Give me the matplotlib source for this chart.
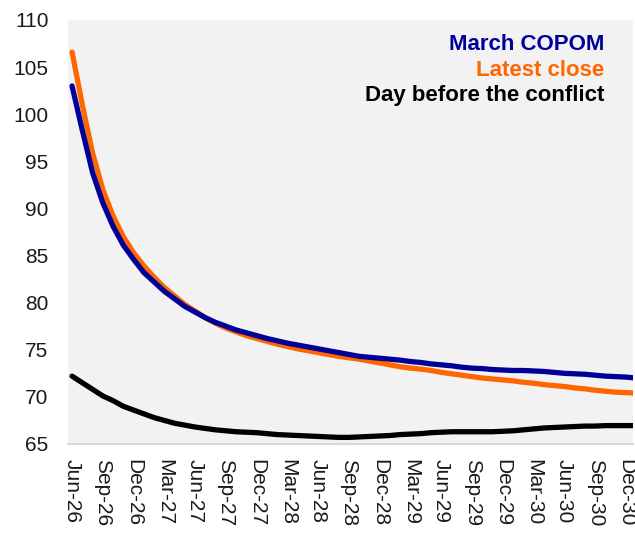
import matplotlib
matplotlib.use("Agg")
import matplotlib.pyplot as plt

plt.rcParams['font.family'] = ['Liberation Sans', 'DejaVu Sans']

# monthly points, Jun-26 onwards
march_copom = [103.0, 98.3, 93.8, 90.6, 88.1, 86.1, 84.6, 83.2, 82.2, 81.2,
               80.4, 79.6, 79.0, 78.4, 77.9, 77.5, 77.1, 76.8, 76.5, 76.2,
               75.95, 75.7, 75.5, 75.3, 75.1, 74.9, 74.7, 74.5, 74.3, 74.2,
               74.1, 74.0, 73.9, 73.75, 73.65, 73.5, 73.4, 73.3, 73.15, 73.05,
               73.0, 72.9, 72.85, 72.8, 72.8, 72.75, 72.7, 72.6, 72.5, 72.45,
               72.4, 72.3, 72.2, 72.15, 72.1, 72.0]
latest_close = [106.6, 101.0, 95.9, 92.0, 89.2, 87.0, 85.3, 83.9, 82.7, 81.6,
                80.7, 79.8, 79.1, 78.4, 77.8, 77.3, 76.9, 76.5, 76.2, 75.9,
                75.6, 75.35, 75.1, 74.9, 74.7, 74.5, 74.3, 74.15, 74.0, 73.8,
                73.6, 73.4, 73.2, 73.05, 72.95, 72.8, 72.6, 72.45, 72.3, 72.15,
                72.0, 71.9, 71.8, 71.7, 71.55, 71.45, 71.3, 71.2, 71.1, 70.95,
                70.85, 70.7, 70.6, 70.5, 70.45, 70.4]
day_before = [72.2, 71.5, 70.8, 70.1, 69.6, 69.0, 68.6, 68.2, 67.8, 67.5,
              67.2, 67.0, 66.8, 66.65, 66.5, 66.4, 66.3, 66.25, 66.2, 66.1,
              66.0, 65.95, 65.9, 65.85, 65.8, 65.75, 65.7, 65.7, 65.75, 65.8,
              65.85, 65.9, 66.0, 66.05, 66.1, 66.2, 66.25, 66.3, 66.3, 66.3,
              66.3, 66.3, 66.35, 66.4, 66.5, 66.6, 66.7, 66.75, 66.8, 66.85,
              66.9, 66.9, 66.95, 66.95, 66.95, 66.95]

tick_labels = ["Jun-26", "Sep-26", "Dec-26", "Mar-27", "Jun-27", "Sep-27",
               "Dec-27", "Mar-28", "Jun-28", "Sep-28", "Dec-28", "Mar-29",
               "Jun-29", "Sep-29", "Dec-29", "Mar-30", "Jun-30", "Sep-30",
               "Dec-30"]

navy = "#000099"
orange = "#FF6600"

fig = plt.figure(figsize=(6.35, 5.33), dpi=100)
ax = fig.add_axes([0.107, 0.167, 0.89, 0.7955])
ax.set_facecolor("#F2F2F2")

x = list(range(len(march_copom)))
ax.plot(x, day_before, color="black", lw=3.8, solid_capstyle="round")
ax.plot(x, latest_close, color=orange, lw=3.8, solid_capstyle="round")
ax.plot(x, march_copom, color=navy, lw=3.8, solid_capstyle="round")

ax.set_xlim(-0.4, 54.7)
ax.set_ylim(65, 110)
ax.set_yticks(range(65, 111, 5))
ax.set_xticks([3 * i for i in range(len(tick_labels))])
ax.set_xticklabels(tick_labels, rotation=-90)
ax.tick_params(axis="both", length=0, labelsize=15, colors="#1a1a1a")
ax.tick_params(axis="y", pad=14)
ax.tick_params(axis="x", pad=11)

for s in ["top", "right", "left"]:
    ax.spines[s].set_visible(False)
ax.spines["bottom"].set_color("#D9D9D9")
ax.spines["bottom"].set_linewidth(1.5)

ax.text(0.949, 0.943, "March COPOM", transform=ax.transAxes, ha="right",
        va="center", color=navy, fontsize=16, fontweight="bold")
ax.text(0.949, 0.880, "Latest close", transform=ax.transAxes, ha="right",
        va="center", color=orange, fontsize=16, fontweight="bold")
ax.text(0.949, 0.821, "Day before the conflict", transform=ax.transAxes,
        ha="right", va="center", color="black", fontsize=16, fontweight="bold")

fig.savefig("out.png", dpi=100)
